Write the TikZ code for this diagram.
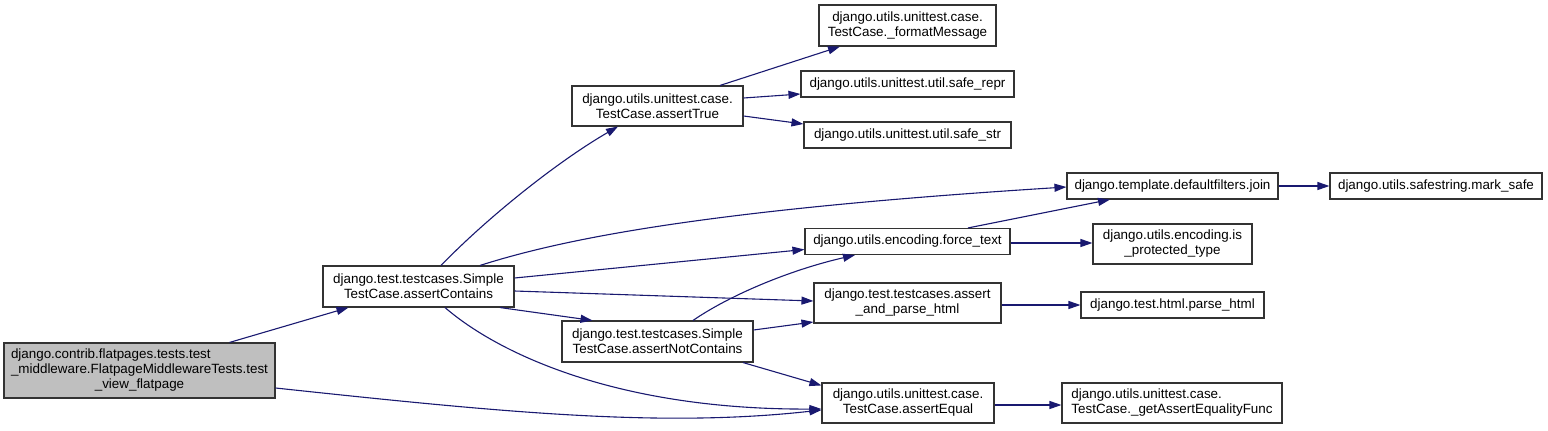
\documentclass[tikz,border=0pt]{standalone}
\usepackage{fontspec}
\setmainfont{Liberation Sans}
\usetikzlibrary{arrows.meta}
\definecolor{edgeblue}{HTML}{191970}
\definecolor{nodegray}{HTML}{BFBFBF}
\definecolor{boxline}{HTML}{333333}
\newcommand\fnfont{\fontsize{13.4pt}{15pt}\selectfont}
\tikzset{
  fn/.style={draw=boxline, line width=1.1pt, fill=white, inner sep=0pt, font=\fnfont, align=center},
  call/.style={draw=edgeblue, line width=1.1pt, -{Triangle[length=12pt,width=8pt]}, fill=none},
}
\begin{document}
\begin{tikzpicture}[x=1pt,y=-1pt]
\useasboundingbox (0,0) rectangle (1548,431);
% nodes
\node[fn, fill=nodegray, minimum width=271pt, minimum height=55pt] (main) at (139.5,370.5)
  {\begin{tabular}{@{}l@{}}django.contrib.flatpages.tests.test\\\_middleware.FlatpageMiddlewareTests.test\\\multicolumn{1}{@{}c@{}}{\_view\_flatpage}\end{tabular}};
\node[fn, minimum width=191pt, minimum height=41pt] (contains) at (418.5,286.5)
  {django.test.testcases.Simple\\TestCase.assertContains};
\node[fn, minimum width=171pt, minimum height=40pt] (atrue) at (657.5,106)
  {django.utils.unittest.case.\\TestCase.assertTrue};
\node[fn, minimum width=177pt, minimum height=41pt] (fmsg) at (907.5,25.5)
  {django.utils.unittest.case.\\TestCase.\_formatMessage};
\node[fn, minimum width=213pt, minimum height=26pt] (srepr) at (907.5,84)
  {django.utils.unittest.util.safe\_repr};
\node[fn, minimum width=207pt, minimum height=26pt] (sstr) at (907.5,135)
  {django.utils.unittest.util.safe\_str};
\node[fn, minimum width=211pt, minimum height=26pt] (join) at (1172.5,186)
  {django.template.defaultfilters.join};
\node[fn, minimum width=212pt, minimum height=26pt] (msafe) at (1436,186)
  {django.utils.safestring.mark\_safe};
\node[fn, minimum width=205pt, minimum height=26pt] (ftext) at (907.5,241.5)
  {django.utils.encoding.force\_text};
\node[fn, minimum width=159pt, minimum height=40pt] (prot) at (1172.5,244)
  {django.utils.encoding.is\\\_protected\_type};
\node[fn, minimum width=187pt, minimum height=40pt] (aph) at (907.5,303)
  {django.test.testcases.assert\\\_and\_parse\_html};
\node[fn, minimum width=183pt, minimum height=26pt] (phtml) at (1172.5,305)
  {django.test.html.parse\_html};
\node[fn, minimum width=191pt, minimum height=41pt] (notc) at (657.5,341.5)
  {django.test.testcases.Simple\\TestCase.assertNotContains};
\node[fn, minimum width=172pt, minimum height=40pt] (aeq) at (908,403)
  {django.utils.unittest.case.\\TestCase.assertEqual};
\node[fn, minimum width=220pt, minimum height=40pt, align=left] (gaef) at (1172,403)
  {django.utils.unittest.case.\\TestCase.\_getAssertEqualityFunc};
% edges
\draw[call] ([xshift=90pt]main.north) -- ([xshift=-70pt]contains.south);
\draw[call] ([yshift=-17.5pt]main.east) .. controls (500,412) and (660,428) .. ([yshift=-7pt]aeq.west);
\draw[call] ([xshift=22.5pt]contains.north) .. controls (490,215) and (560,160) .. ([xshift=-39.5pt]atrue.south);
\draw[call] ([xshift=61.5pt]contains.north) .. controls (560,240) and (700,210) .. ([yshift=-1pt]join.west);
\draw[call] ([yshift=8.5pt]contains.east) -- ([yshift=-8pt]ftext.west);
\draw[call] ([yshift=-4.5pt]contains.east) -- ([yshift=2pt]aph.west);
\draw[call] ([xshift=81.5pt]contains.south) -- ([xshift=-65pt]notc.north);
\draw[call] ([xshift=26.5pt]contains.south) .. controls (500,355) and (620,410) .. ([yshift=-6pt]aeq.west);
\draw[call] ([xshift=62.5pt]atrue.north) -- ([xshift=-67.5pt]fmsg.south);
\draw[call] ([yshift=8pt]atrue.east) -- ([yshift=-10pt]srepr.west);
\draw[call] ([yshift=-10pt]atrue.east) -- ([yshift=11pt]sstr.west);
\draw[call] ([xshift=35.5pt]notc.north) .. controls (730,295) and (790,270) .. ([xshift=-52.5pt]ftext.south);
\draw[call] ([yshift=11.5pt]notc.east) -- ([yshift=-19pt]aph.west);
\draw[call] ([xshift=85.5pt]notc.south) -- ([yshift=-3pt]aeq.north west);
\draw[call] ([xshift=60.5pt]ftext.north) -- ([xshift=-62.5pt]join.south);
\draw[call] ([yshift=-1.5pt]ftext.east) -- ([yshift=1pt]prot.west);
\draw[call] (join.east) -- (msafe.west);
\draw[call] ([yshift=-2pt]aph.east) -- (phtml.west);
\draw[call] ([yshift=-2pt]aeq.east) -- ([yshift=-2pt]gaef.west);
\end{tikzpicture}
\end{document}
